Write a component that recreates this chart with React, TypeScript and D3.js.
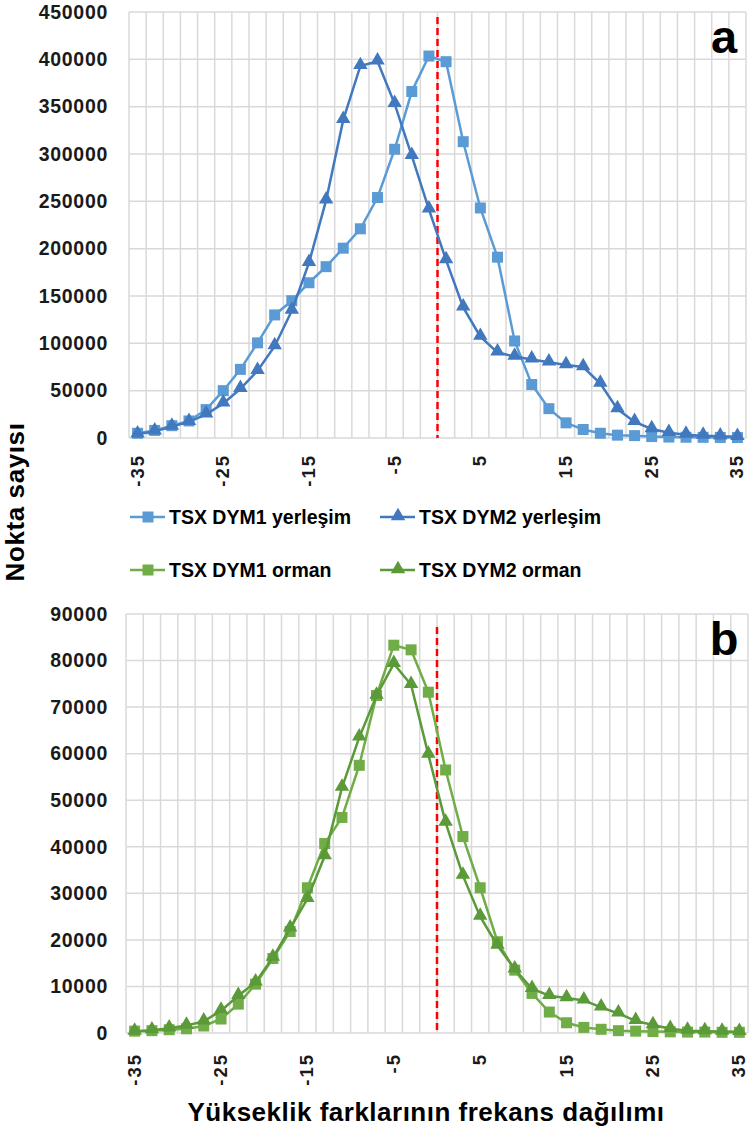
import React from "react";
import * as d3 from "d3";

const categories = [-35, -33, -31, -29, -27, -25, -23, -21, -19, -17, -15, -13, -11, -9, -7, -5, -3, -1, 1, 3, 5, 7, 9, 11, 13, 15, 17, 19, 21, 23, 25, 27, 29, 31, 33, 35];
const tickLabels = [-35, -25, -15, -5, 5, 15, 25, 35];

const dym1Yerlesim = [5000, 8000, 13000, 18000, 30000, 50000, 72500, 100500, 130000, 145000, 164000, 181000, 200500, 221000, 254000, 305000, 366000, 403500, 397500, 313000, 243000, 191000, 102500, 56500, 31000, 16000, 9000, 5000, 3000, 2500, 1500, 1000, 800, 700, 600, 500];
const dym2Yerlesim = [4000, 7000, 12000, 17000, 25000, 36500, 52000, 71000, 97000, 134500, 185000, 251000, 336000, 393000, 398000, 353000, 298000, 241500, 188000, 138000, 107000, 90500, 86000, 83000, 80000, 77000, 75000, 57500, 30500, 17000, 9500, 5500, 3500, 2500, 1800, 1200];
const dym1Orman = [400, 500, 700, 900, 1500, 3000, 6200, 10500, 16000, 21800, 31200, 40700, 46300, 57500, 72500, 83300, 82300, 73200, 56500, 42200, 31200, 19600, 13500, 8500, 4500, 2200, 1200, 800, 500, 400, 300, 250, 200, 200, 150, 150];
const dym2Orman = [300, 600, 1000, 1600, 2500, 4800, 8000, 10900, 16200, 22500, 28800, 38000, 52700, 63500, 72500, 79300, 74800, 59800, 45200, 33800, 25000, 18800, 13700, 9500, 8000, 7500, 7000, 5500, 4200, 2600, 1700, 900, 500, 400, 300, 250];

const COL_BLUE1 = "#5B9BD5";
const COL_BLUE2 = "#4178BE";
const COL_GREEN1 = "#70AD47";
const COL_GREEN2 = "#5A9A38";
const FONT = "'Liberation Sans', Arial, sans-serif";

type Series = { values: number[]; color: string; marker: "square" | "triangle" };

type PanelProps = {
  left: number; right: number; top: number; bottom: number;
  yMax: number; yStep: number; series: Series[]; letter: string;
  letterY: number; redTop: number; labelGap: number;
};

function Marker({ x, y, kind, color }: { x: number; y: number; kind: string; color: string }) {
  if (kind === "square") {
    return <rect x={x - 5.5} y={y - 5.5} width={11} height={11} fill={color} />;
  }
  const p = d3.symbol().type(d3.symbolTriangle).size(90)();
  return <path d={p || ""} transform={`translate(${x},${y - 1})`} fill={color} />;
}

function Panel(props: PanelProps) {
  const { left, right, top, bottom, yMax, yStep, series, letter, letterY, redTop, labelGap } = props;
  const x = d3.scaleBand<number>().domain(categories).range([left, right]).padding(0);
  const y = d3.scaleLinear().domain([0, yMax]).range([bottom, top]);
  const yTicks = d3.range(0, yMax + 1, yStep);
  const bw = x.bandwidth();
  const cx = (c: number) => (x(c) as number) + bw / 2;
  const line = d3.line<number>().x((_, i) => cx(categories[i])).y((v) => y(v));
  const zeroX = x(1) as number;
  return (
    <g>
      {yTicks.map((t) => (
        <line key={"h" + t} x1={left} x2={right} y1={y(t)} y2={y(t)} stroke="#D9D9D9" strokeWidth={1.5} />
      ))}
      {categories.map((c) => (
        <line key={"v" + c} x1={x(c) as number} x2={x(c) as number} y1={top} y2={bottom} stroke="#D9D9D9" strokeWidth={1.5} />
      ))}
      <line x1={right} x2={right} y1={top} y2={bottom} stroke="#D9D9D9" strokeWidth={1.5} />
      {yTicks.map((t) => (
        <text key={"yl" + t} x={108} y={y(t)} dy="0.35em" textAnchor="end" fontFamily={FONT} fontWeight="bold" fontSize={19.5} letterSpacing={0.7} fill="#1a1a1a">
          {t}
        </text>
      ))}
      {tickLabels.map((t) => (
        <text key={"xl" + t} transform={`translate(${cx(t) + 6},${bottom + labelGap}) rotate(-90)`} textAnchor="end" fontFamily={FONT} fontWeight="bold" fontSize={18.5} letterSpacing={2} fill="#1a1a1a">
          {t}
        </text>
      ))}
      <line x1={zeroX} x2={zeroX} y1={redTop} y2={bottom} stroke="#FF0000" strokeWidth={2.5} strokeDasharray="7,4" />
      {series.map((s, si) => (
        <g key={"s" + si}>
          <path d={line(s.values) || ""} fill="none" stroke={s.color} strokeWidth={2.5} />
          {s.values.map((v, i) => (
            <Marker key={i} x={cx(categories[i])} y={y(v)} kind={s.marker} color={s.color} />
          ))}
        </g>
      ))}
      <text x={724} y={letterY} textAnchor="middle" fontFamily={FONT} fontWeight="bold" fontSize={47} fill="#000">
        {letter}
      </text>
    </g>
  );
}

function LegendItem({ x, y, color, marker, label }: { x: number; y: number; color: string; marker: string; label: string }) {
  return (
    <g>
      <line x1={x} x2={x + 35} y1={y} y2={y} stroke={color} strokeWidth={2.5} />
      <Marker x={x + 18} y={y} kind={marker} color={color} />
      <text x={x + 39} y={y} dy="0.36em" fontFamily={FONT} fontWeight="bold" fontSize={19.5} fill="#000">
        {label}
      </text>
    </g>
  );
}

export default function App() {
  return (
    <svg width={754} height={1132} style={{ position: "absolute", left: 0, top: 0, display: "block", background: "#fff" }}>
      <rect width={754} height={1132} fill="#fff" />
      <Panel
        left={129} right={746} top={12} bottom={438} yMax={450000} yStep={50000}
        series={[
          { values: dym1Yerlesim, color: COL_BLUE1, marker: "square" },
          { values: dym2Yerlesim, color: COL_BLUE2, marker: "triangle" },
        ]}
        letter="a" letterY={53} redTop={17} labelGap={16}
      />
      <Panel
        left={126} right={748} top={614} bottom={1033} yMax={90000} yStep={10000}
        series={[
          { values: dym1Orman, color: COL_GREEN1, marker: "square" },
          { values: dym2Orman, color: COL_GREEN2, marker: "triangle" },
        ]}
        letter="b" letterY={655} redTop={627} labelGap={20}
      />
      <LegendItem x={130} y={517} color={COL_BLUE1} marker="square" label="TSX DYM1 yerleşim" />
      <LegendItem x={380} y={517} color={COL_BLUE2} marker="triangle" label="TSX DYM2 yerleşim" />
      <LegendItem x={130} y={570} color={COL_GREEN1} marker="square" label="TSX DYM1 orman" />
      <LegendItem x={380} y={570} color={COL_GREEN2} marker="triangle" label="TSX DYM2 orman" />
      <text transform="translate(24,502) rotate(-90)" textAnchor="middle" fontFamily={FONT} fontWeight="bold" fontSize={26} letterSpacing={0.6} fill="#000">
        Nokta sayısı
      </text>
      <text x={426} y={1121} textAnchor="middle" fontFamily={FONT} fontWeight="bold" fontSize={26} letterSpacing={0.5} fill="#000">
        Yükseklik farklarının frekans dağılımı
      </text>
    </svg>
  );
}
